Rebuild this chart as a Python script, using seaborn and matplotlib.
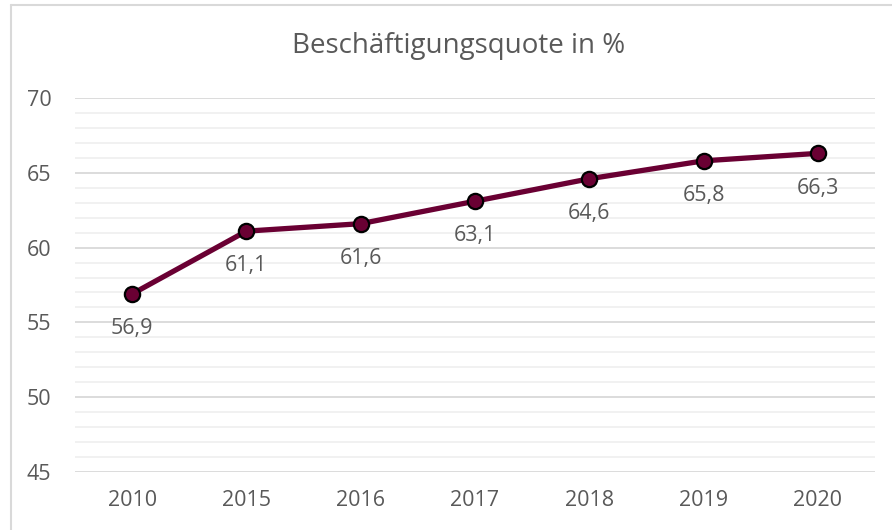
import matplotlib
matplotlib.use("Agg")
import matplotlib.pyplot as plt
from matplotlib.lines import Line2D
from matplotlib.ticker import MultipleLocator
import pandas as pd
import seaborn as sns

years = ["2010", "2015", "2016", "2017", "2018", "2019", "2020"]
quote = [56.9, 61.1, 61.6, 63.1, 64.6, 65.8, 66.3]
title = "Beschäftigungsquote in %"

df = pd.DataFrame({"Jahr": years, "Quote": quote})

sns.set_style("white")
plt.rcParams["font.family"] = ["Open Sans", "DejaVu Sans"]
grey = "#595959"

fig = plt.figure(figsize=(8.92, 5.30), dpi=100)
ax = fig.add_axes([0.084, 0.1094, 0.897, 0.7057])

x = list(range(len(years)))
sns.lineplot(x=x, y=df["Quote"], ax=ax, color="#6A0033", linewidth=3.8,
             marker="o", markersize=11, markerfacecolor="#6A0033",
             markeredgecolor="black", markeredgewidth=1.6, zorder=3)

for xi, v in zip(x, quote):
    ax.annotate(f"{v:.1f}".replace(".", ","), (xi, v), xytext=(0, -25),
                textcoords="offset points", ha="center", va="center",
                fontsize=15.5, color=grey)

ax.set_xlim(-0.5, len(years) - 0.5)
ax.set_ylim(45, 70)
ax.set_xticks(x)
ax.set_xticklabels(years)
ax.yaxis.set_major_locator(MultipleLocator(5))
ax.yaxis.set_minor_locator(MultipleLocator(1))
ax.grid(which="major", axis="y", color="#D9D9D9", linewidth=1.3, zorder=0)
ax.grid(which="minor", axis="y", color="#F0F0F0", linewidth=1.3, zorder=0)
ax.grid(axis="x", visible=False)
for s in ax.spines.values():
    s.set_visible(False)
ax.tick_params(axis="both", which="both", length=0, labelsize=15.5,
               labelcolor=grey)
ax.tick_params(axis="y", pad=17)
ax.tick_params(axis="x", pad=13)
ax.set_xlabel("")
ax.set_ylabel("")

fig.text(0.514, 0.913, title, ha="center", va="center", fontsize=20,
         color=grey)

fig.add_artist(Line2D([0.012, 0.012], [0, 0.991], transform=fig.transFigure,
                      color="#D9D9D9", linewidth=1.5))
fig.add_artist(Line2D([0.012, 1.0], [0.991, 0.991], transform=fig.transFigure,
                      color="#D9D9D9", linewidth=1.5))

fig.savefig("out.png", dpi=100)
